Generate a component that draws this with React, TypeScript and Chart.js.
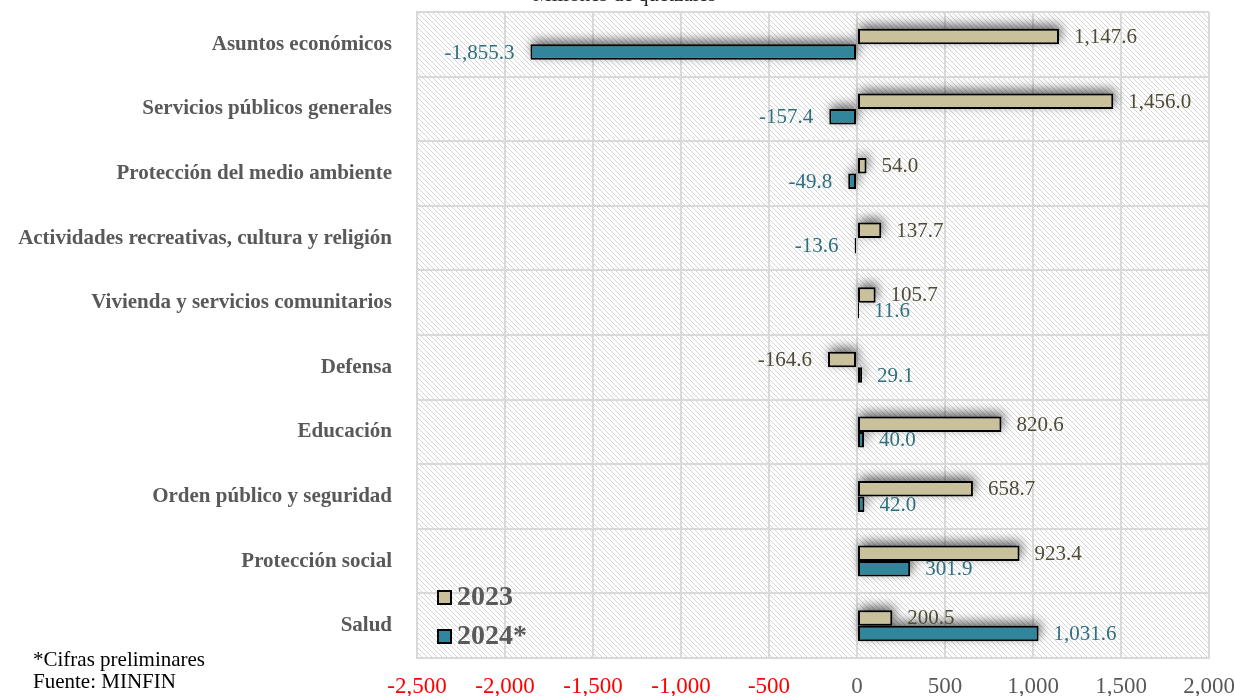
import React, { useEffect, useRef } from "react";
import { Chart, registerables } from "chart.js";

Chart.register(...registerables);

const categories = [
  "Asuntos económicos",
  "Servicios públicos generales",
  "Protección del medio ambiente",
  "Actividades recreativas, cultura y religión",
  "Vivienda y servicios comunitarios",
  "Defensa",
  "Educación",
  "Orden público y seguridad",
  "Protección social",
  "Salud",
];
const values2023 = [1147.6, 1456.0, 54.0, 137.7, 105.7, -164.6, 820.6, 658.7, 923.4, 200.5];
const values2024 = [-1855.3, -157.4, -49.8, -13.6, 11.6, 29.1, 40.0, 42.0, 301.9, 1031.6];
const seriesNames = ["2023", "2024*"];
const xMin = -2500;
const xMax = 2000;
const xStep = 500;
const titleText = "Millones de quetzales";
const footnotes = ["*Cifras preliminares", "Fuente: MINFIN"];

const COLOR_2023 = "#c8c19b";
const COLOR_2024 = "#31869b";
const LABEL_2023 = "#4f4b36";
const LABEL_2024 = "#2e6f80";
const SERIF = "'Liberation Serif', 'Times New Roman', serif";

function fmt(v: number) {
  const s = Math.abs(v).toFixed(1);
  const [i, d] = s.split(".");
  const withCommas = i.replace(/\B(?=(\d{3})+(?!\d))/g, ",");
  return (v < 0 ? "-" : "") + withCommas + "." + d;
}

function makePattern(ctx: CanvasRenderingContext2D) {
  const c = document.createElement("canvas");
  c.width = 5;
  c.height = 5;
  const p = c.getContext("2d")!;
  p.fillStyle = "#ffffff";
  p.fillRect(0, 0, 5, 5);
  p.strokeStyle = "#d6d6d6";
  p.lineWidth = 1;
  p.beginPath();
  p.moveTo(-1, -1);
  p.lineTo(6, 6);
  p.moveTo(-1, 4);
  p.lineTo(1, 6);
  p.moveTo(4, -1);
  p.lineTo(6, 1);
  p.stroke();
  return ctx.createPattern(c, "repeat");
}

export default function App() {
  const ref = useRef<HTMLCanvasElement | null>(null);

  useEffect(() => {
    document.body.style.margin = "0";
    const canvas = ref.current!;
    const ctx0 = canvas.getContext("2d")!;
    const pattern = makePattern(ctx0);

    const bgPlugin = {
      id: "bgHatch",
      beforeDraw(chart: any) {
        const { ctx, chartArea } = chart;
        ctx.save();
        ctx.fillStyle = "#ffffff";
        ctx.fillRect(0, 0, chart.width, chart.height);
        if (pattern) {
          ctx.fillStyle = pattern;
          ctx.fillRect(chartArea.left, chartArea.top, chartArea.right - chartArea.left, chartArea.bottom - chartArea.top);
        }
        ctx.restore();
      },
    };

    const shadowPlugin = {
      id: "barShadow",
      beforeDatasetsDraw(chart: any) {
        const ctx = chart.ctx;
        const OFF = 5000;
        ctx.save();
        ctx.shadowColor = "rgba(0,0,0,0.6)";
        ctx.shadowBlur = 11;
        ctx.shadowOffsetX = OFF + 2;
        ctx.shadowOffsetY = -4;
        ctx.fillStyle = "#000";
        chart.data.datasets.forEach((_ds: any, di: number) => {
          const meta = chart.getDatasetMeta(di);
          meta.data.forEach((bar: any) => {
            const left = Math.min(bar.x, bar.base);
            const w = Math.abs(bar.x - bar.base);
            const top = bar.y - bar.height / 2;
            ctx.fillRect(left - OFF, top, w, bar.height);
          });
        });
        ctx.restore();
      },
    };

    const labelsPlugin = {
      id: "valueLabels",
      afterDatasetsDraw(chart: any) {
        const ctx = chart.ctx;
        ctx.save();
        ctx.font = `21px ${SERIF}`;
        ctx.textBaseline = "middle";
        chart.data.datasets.forEach((ds: any, di: number) => {
          const meta = chart.getDatasetMeta(di);
          ctx.fillStyle = di === 0 ? LABEL_2023 : LABEL_2024;
          meta.data.forEach((bar: any, i: number) => {
            const v = ds.data[i];
            const y = bar.y + 1;
            if (v >= 0) {
              ctx.textAlign = "left";
              ctx.fillText(fmt(v), bar.x + 15, y);
            } else {
              ctx.textAlign = "right";
              ctx.fillText(fmt(v), bar.x - 16, y);
            }
          });
        });
        ctx.restore();
      },
      afterDraw(chart: any) {
        const ctx = chart.ctx;
        ctx.save();
        const items = [
          { label: seriesNames[0], color: COLOR_2023, y: 597 },
          { label: seriesNames[1], color: COLOR_2024, y: 636 },
        ];
        items.forEach((it) => {
          ctx.fillStyle = it.color;
          ctx.fillRect(438, it.y - 6, 13, 13);
          ctx.strokeStyle = "#000";
          ctx.lineWidth = 2;
          ctx.strokeRect(438, it.y - 6, 13, 13);
          ctx.fillStyle = "#595959";
          ctx.font = `bold 28px ${SERIF}`;
          ctx.textAlign = "left";
          ctx.textBaseline = "middle";
          ctx.fillText(it.label, 457, it.y + 1);
        });
        ctx.fillStyle = "#222";
        ctx.font = `21px ${SERIF}`;
        ctx.textAlign = "left";
        ctx.textBaseline = "alphabetic";
        ctx.fillText(titleText, 533, 1);
        ctx.fillStyle = "#000";
        ctx.font = `21px ${SERIF}`;
        ctx.fillText(footnotes[0], 33, 666);
        ctx.fillText(footnotes[1], 33, 688);
        ctx.restore();
      },
    };

    const chart = new Chart(canvas, {
      type: "bar",
      data: {
        labels: categories,
        datasets: [
          {
            label: seriesNames[0],
            data: values2023,
            backgroundColor: COLOR_2023,
            borderColor: "#000",
            borderWidth: 2,
            borderSkipped: false,
            categoryPercentage: 0.48,
            barPercentage: 1,
          },
          {
            label: seriesNames[1],
            data: values2024,
            backgroundColor: COLOR_2024,
            borderColor: "#000",
            borderWidth: 2,
            borderSkipped: false,
            categoryPercentage: 0.48,
            barPercentage: 1,
          },
        ],
      },
      options: {
        indexAxis: "y",
        responsive: false,
        animation: false,
        layout: { padding: { top: 12, right: 25, left: 0, bottom: 0 } },
        plugins: {
          legend: { display: false },
          tooltip: { enabled: false },
        },
        scales: {
          x: {
            min: xMin,
            max: xMax,
            ticks: {
              stepSize: xStep,
              padding: 15,
              maxRotation: 0,
              font: { family: SERIF, size: 23 },
              color: (c: any) => (c.tick && c.tick.value < 0 ? "#ff0000" : "#595959"),
              callback: (v: any) => {
                const n = Number(v);
                const s = Math.abs(n).toString().replace(/\B(?=(\d{3})+(?!\d))/g, ",");
                return (n < 0 ? "-" : "") + s;
              },
            },
            grid: { color: "#d9d9d9", lineWidth: 2, drawTicks: false },
            border: { display: true, color: "#d9d9d9", width: 2 },
            afterFit: (s: any) => {
              s.height = 38;
              s.paddingLeft = 0;
              s.paddingRight = 0;
            },
          },
          y: {
            ticks: {
              padding: 25,
              font: { family: SERIF, size: 21, weight: "bold" },
              color: "#595959",
            },
            grid: { color: "#d9d9d9", lineWidth: 2, drawTicks: false },
            border: { display: true, color: "#d9d9d9", width: 2 },
            afterFit: (s: any) => {
              s.width = 417;
              s.paddingTop = 0;
              s.paddingBottom = 0;
            },
          },
        },
      },
      plugins: [bgPlugin, shadowPlugin, labelsPlugin],
    } as any);

    return () => chart.destroy();
  }, []);

  return (
    <div style={{ position: "absolute", left: 0, top: 0, width: 1234, height: 696 }}>
      <canvas ref={ref} width={1234} height={696} style={{ display: "block" }} />
    </div>
  );
}
